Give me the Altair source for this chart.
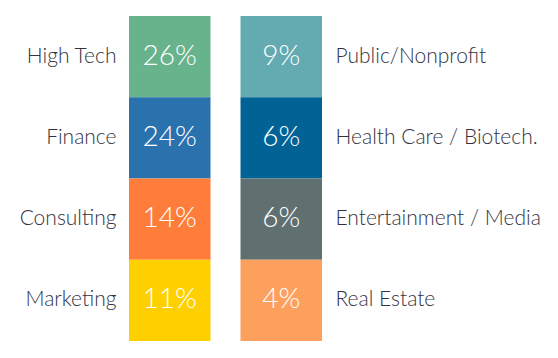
import altair as alt
import pandas as pd

left_categories = ["High Tech", "Finance", "Consulting", "Marketing"]
left_values = [26, 24, 14, 11]
left_colors = ["#67b38c", "#2a72ae", "#fe7d3b", "#fed000"]

right_categories = ["Public/Nonprofit", "Health Care / Biotech.", "Entertainment / Media", "Real Estate"]
right_values = [9, 6, 6, 4]
right_colors = ["#63abb1", "#016395", "#607070", "#fea05d"]

FONT = "Lato"
LABEL_COLOR = "#33333f"

left_df = pd.DataFrame({"col": "L", "category": left_categories, "value": left_values})
right_df = pd.DataFrame({"col": "R", "category": right_categories, "value": right_values})
for d in (left_df, right_df):
    d["label"] = d["value"].astype(str) + "%"

x_enc = alt.X("col:N", scale=alt.Scale(domain=["L", "R"], paddingInner=0.269, paddingOuter=0), axis=None)


def panel(df, cats, colors, orient):
    y_enc = alt.Y(
        "category:N",
        sort=cats,
        scale=alt.Scale(domain=cats, paddingInner=0, paddingOuter=0),
        axis=alt.Axis(
            orient=orient, title=None, domain=False, ticks=False, grid=False, labelPadding=13,
            labelFont=FONT, labelFontSize=21, labelFontWeight=300, labelColor=LABEL_COLOR,
            labelLimit=300,
        ),
    )
    base = alt.Chart(df).encode(x=x_enc, y=y_enc)
    rect = base.mark_rect(strokeWidth=0).encode(
        color=alt.Color("category:N", scale=alt.Scale(domain=cats, range=colors), legend=None)
    )
    text = base.mark_text(font=FONT, fontSize=28, fontWeight=300, color="white").encode(text="label:N")
    return alt.layer(rect, text)


chart = (
    alt.layer(
        panel(left_df, left_categories, left_colors, "left"),
        panel(right_df, right_categories, right_colors, "right"),
    )
    .resolve_scale(y="independent", color="independent")
    .properties(
        width=193,
        height=325,
        autosize=alt.AutoSizeParams(type="none"),
        padding={"left": 121, "top": 8, "right": 228, "bottom": 9},
    )
    .configure_view(strokeWidth=0, strokeOpacity=0)
    .configure(background="white", style={"cell": {"stroke": "transparent", "strokeWidth": 0}})
)

chart.save("out.html", embed_options={"renderer": "svg", "actions": False})
